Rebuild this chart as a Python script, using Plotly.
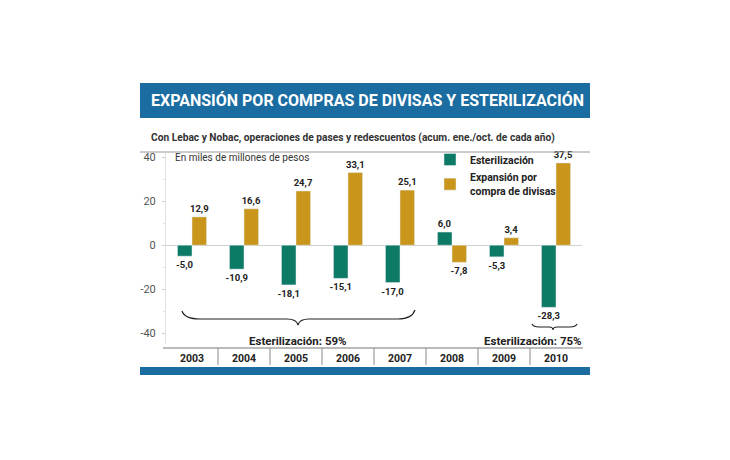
import plotly.graph_objects as go

years = ["2003", "2004", "2005", "2006", "2007", "2008", "2009", "2010"]
esterilizacion = [-5.0, -10.9, -18.1, -15.1, -17.0, 6.0, -5.3, -28.3]
expansion = [12.9, 16.6, 24.7, 33.1, 25.1, -7.8, 3.4, 37.5]
y_ticks = [40, 20, 0, -20, -40]

title = "EXPANSIÓN POR COMPRAS DE DIVISAS Y ESTERILIZACIÓN"
subtitle = "Con Lebac y Nobac, operaciones de pases y redescuentos (acum. ene./oct. de cada año)"
unit_note = "En miles de millones de pesos"
name_est = "Esterilización"
name_exp = "Expansión por<br>compra de divisas"
note_59 = "Esterilización: 59%"
note_75 = "Esterilización: 75%"

GREEN = "#0d7a66"
GOLD = "#c9961b"
BLUE = "#1b6ca0"
TXT = "#222222"
FONT = "Roboto, Liberation Sans, sans-serif"

W, H = 730, 460
L, R, T, B = 166, 582, 153, 344


def px(x):
    return (x - L) / (R - L)


def py(y):
    return (B - y) / (B - T)


def fmt(v):
    return f"{v:.1f}".replace(".", ",")


def bold(s):
    return "<br>".join(f"<b>{part}</b>" for part in s.split("<br>"))


fig = go.Figure()
fig.add_trace(go.Bar(
    x=years, y=esterilizacion, name=bold(name_est), marker_color=GREEN,
    text=[f"<b>{fmt(v)}</b>" for v in esterilizacion], textposition="outside",
    constraintext="none", textangle=0,
    textfont=dict(size=9.5, color=TXT, family=FONT), cliponaxis=False,
))
fig.add_trace(go.Bar(
    x=years, y=expansion, name=bold(name_exp), marker_color=GOLD,
    text=[f"<b>{fmt(v)}</b>" for v in expansion], textposition="outside",
    constraintext="none", textangle=0,
    textfont=dict(size=9.5, color=TXT, family=FONT), cliponaxis=False,
))

shapes = []
# banner
shapes.append(dict(type="rect", xref="paper", yref="paper", x0=px(140), x1=px(590),
                   y0=py(118), y1=py(83), fillcolor=BLUE, line_width=0, layer="below"))
# subtitle rule
shapes.append(dict(type="line", xref="paper", yref="paper", x0=px(140), x1=px(590),
                   y0=py(152), y1=py(152), line=dict(color="#9a9a9a", width=1)))
# category band top line
shapes.append(dict(type="line", xref="paper", yref="paper", x0=px(163), x1=px(583),
                   y0=py(348), y1=py(348), line=dict(color="#777777", width=1)))
# category dividers
for i in range(len(years) - 1):
    shapes.append(dict(type="line", xref="x", yref="paper", x0=i + 0.5, x1=i + 0.5,
                       y0=py(348), y1=py(365), line=dict(color="#888888", width=1)))
# bottom blue bar
shapes.append(dict(type="rect", xref="paper", yref="paper", x0=px(140), x1=px(590),
                   y0=py(375), y1=py(367), fillcolor=BLUE, line_width=0))


def path_from(points_cmds):
    out = []
    for cmd, pts in points_cmds:
        coords = " ".join(f"{px(a):.5f},{py(b):.5f}" for a, b in pts)
        out.append(f"{cmd} {coords}")
    return " ".join(out)


big_brace = path_from([
    ("M", [(182, 311)]),
    ("C", [(184, 317), (190, 319), (200, 319)]),
    ("L", [(287, 319)]),
    ("C", [(294, 319), (297, 321), (298, 325)]),
    ("C", [(299, 321), (302, 319), (309, 319)]),
    ("L", [(398, 319)]),
    ("C", [(408, 319), (413, 316), (415, 310)]),
])
small_brace = path_from([
    ("M", [(532, 324)]),
    ("C", [(533, 326), (535, 327), (539, 327)]),
    ("L", [(549, 327)]),
    ("C", [(552, 327), (553, 328), (553, 330)]),
    ("C", [(553, 328), (554, 327), (557, 327)]),
    ("L", [(570, 327)]),
    ("C", [(574, 327), (576, 326), (577, 324)]),
])
for p in (big_brace, small_brace):
    shapes.append(dict(type="path", xref="paper", yref="paper", path=p,
                       line=dict(color="#222222", width=1.2)))

annotations = [
    dict(text=f"<b>{title}</b>", xref="paper", yref="paper", x=px(149), y=py(101),
         xanchor="left", yanchor="middle", showarrow=False,
         font=dict(size=16, color="white", family=FONT)),
    dict(text=f"<b>{subtitle}</b>", xref="paper", yref="paper", x=px(149), y=py(138),
         xanchor="left", yanchor="middle", showarrow=False,
         font=dict(size=10.2, color="#333333", family=FONT)),
    dict(text=unit_note, xref="paper", yref="paper", x=px(173), y=py(157),
         xanchor="left", yanchor="middle", showarrow=False,
         font=dict(size=10, color="#333333", family=FONT)),
    dict(text=f"<b>{note_59}</b>", xref="paper", yref="paper", x=px(298), y=py(341),
         xanchor="center", yanchor="middle", showarrow=False,
         font=dict(size=11.5, color=TXT, family=FONT)),
    dict(text=f"<b>{note_75}</b>", xref="paper", yref="paper", x=px(584), y=py(341),
         xanchor="right", yanchor="middle", showarrow=False,
         font=dict(size=11.5, color=TXT, family=FONT)),
]

fig.update_layout(
    width=W, height=H,
    margin=dict(l=L, r=W - R, t=T, b=H - B, pad=0),
    paper_bgcolor="white", plot_bgcolor="white",
    barmode="group", bargap=0.44, bargroupgap=0,
    font=dict(family=FONT, color=TXT),
    shapes=shapes, annotations=annotations,
    legend=dict(x=px(430), y=py(145), xanchor="left", yanchor="top",
                font=dict(size=10.5, color=TXT, family=FONT),
                bgcolor="rgba(0,0,0,0)", tracegroupgap=0, itemwidth=30),
    showlegend=True,
)
fig.update_xaxes(
    type="category", showgrid=False, zeroline=False, showline=False, ticks="",
    tickfont=dict(size=10.5, color=TXT, family=FONT),
    tickvals=years, ticktext=[f"<b>{y}</b>" for y in years], ticklabelstandoff=6,
)
fig.update_yaxes(
    range=[-45, 42], tickvals=y_ticks, ticktext=[str(v) for v in y_ticks], showgrid=False,
    zeroline=True, zerolinecolor="#d0d0d0", zerolinewidth=1,
    showline=True, linecolor="#e0e0e0", linewidth=1,
    ticks="outside", ticklen=3, tickcolor="#d0d0d0",
    minor=dict(tickvals=[30, 10, -10, -30], ticks="outside", ticklen=2, tickcolor="#e0e0e0"),
    tickfont=dict(size=11, color="#555555", family=FONT), ticklabelstandoff=4,
)
fig.write_html("out.html")
